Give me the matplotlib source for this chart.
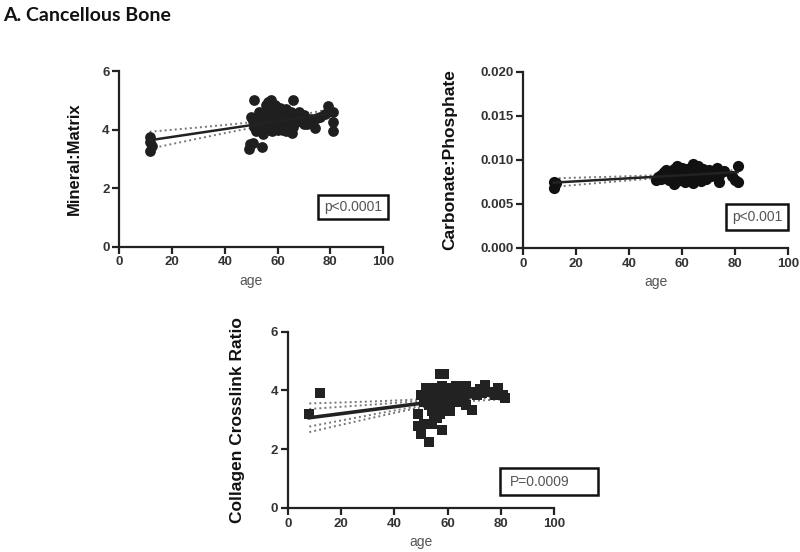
#!/usr/bin/env python3
"""Cancellous bone: mineral:matrix, carbonate:phosphate, crosslink ratio vs age."""

import numpy as np
import matplotlib
matplotlib.use("Agg")
import matplotlib.pyplot as plt
from matplotlib.patches import Rectangle

# --- data ---------------------------------------------------------------
mm_age = [11.5, 11.5, 12.5, 11.5, 49, 49.5, 50.5, 54, 51, 55.5, 56.5, 57.5, 66, 79,
          81, 81, 81, 74, 73, 71, 72.5, 65.5, 54.5, 52, 50.5, 50, 51, 53,
          52, 53, 54, 55, 55, 56, 56, 57, 57, 58, 58, 58, 59, 59, 60, 60, 60,
          61, 61, 62, 62, 62, 63, 63, 64, 64, 65, 65, 66, 66, 67, 67, 68, 68,
          69, 70, 70, 75, 76, 78, 59, 61, 63]
mm_val = [3.75, 3.58, 3.45, 3.28, 3.35, 3.5, 3.55, 3.4, 5.0, 4.85, 4.95, 5.0, 5.0, 4.8,
          4.6, 4.25, 3.95, 4.05, 4.25, 4.2, 4.35, 3.9, 3.85, 3.95, 4.3, 4.45, 4.1, 4.2,
          4.4, 4.6, 4.3, 4.1, 4.5, 4.2, 4.7, 4.0, 4.4, 4.6, 4.2, 3.95, 4.5, 4.1, 4.3, 4.0, 4.7,
          4.2, 4.5, 4.4, 4.0, 4.65, 4.3, 3.95, 4.5, 4.2, 4.6, 4.3, 4.4, 4.1, 4.55, 4.25, 4.4, 4.6,
          4.3, 4.5, 4.2, 4.4, 4.45, 4.55, 4.85, 4.75, 4.7]

cp_age = [11.5, 12, 11.5, 12.5, 50, 51, 52, 52, 53, 53, 54, 54, 55, 55, 56, 56, 57, 57,
          58, 58, 58, 59, 59, 60, 60, 61, 61, 62, 62, 63, 63, 64, 64, 64, 65, 65, 65,
          66, 66, 67, 67, 68, 68, 69, 70, 71, 72, 73, 74, 74, 76, 79, 80, 81, 81,
          57, 60, 62, 66, 69]
cp_val = [0.0075, 0.0072, 0.0068, 0.0074, 0.0077, 0.0080, 0.0083, 0.0078, 0.0086, 0.0081,
          0.0088, 0.0079, 0.0084, 0.0077, 0.0082, 0.0087, 0.0073, 0.0079, 0.0093, 0.0085,
          0.0076, 0.0089, 0.0081, 0.0084, 0.0078, 0.0087, 0.0075, 0.0082, 0.0090, 0.0086,
          0.0079, 0.0095, 0.0074, 0.0083, 0.0092, 0.0078, 0.0086, 0.0081, 0.0088, 0.0076,
          0.0084, 0.0089, 0.0080, 0.0085, 0.0088, 0.0082, 0.0086, 0.0091, 0.0075, 0.0083,
          0.0087, 0.0082, 0.0077, 0.0093, 0.0075, 0.0090, 0.0091, 0.0077, 0.0093, 0.0078]

cl_age = [8, 12, 53, 50, 49, 51, 54, 58, 49, 57, 58.5, 79, 81, 81.5, 74, 69, 67, 52, 56,
          50, 51, 52, 53, 53, 54, 54, 55, 55, 56, 56, 57, 57, 57, 58, 58, 59, 59, 60, 60,
          61, 61, 62, 62, 63, 63, 64, 64, 65, 66, 66, 67, 68, 70, 71, 72, 73, 76, 78,
          55, 56, 60]
cl_val = [3.2, 3.9, 2.25, 2.5, 2.8, 2.85, 2.85, 2.65, 3.2, 4.55, 4.55, 4.1, 3.85, 3.75,
          4.2, 3.35, 3.5, 4.1, 3.05,
          3.85, 3.6, 3.75, 3.9, 3.5, 4.0, 3.3, 3.7, 4.1, 3.9, 3.35, 4.0, 3.6, 3.2, 4.15, 3.8,
          3.95, 3.45, 4.1, 3.7, 3.9, 3.3, 4.0, 3.65, 4.15, 3.85, 3.6, 4.0, 3.9, 4.05, 3.7,
          4.15, 3.9, 3.95, 3.85, 4.05, 3.9, 3.95, 3.85, 3.2, 3.5, 3.4]

x_ticks = [0, 20, 40, 60, 80, 100]

TICK_COLOR = "#333333"
DOT_COLOR = "#1f1f1f"


def fit_with_band(ax, x, y, z_levels=(1.96,), lw=1.8):
    """Least squares line plus dotted confidence band(s) of the mean."""
    x = np.asarray(x, float)
    y = np.asarray(y, float)
    slope, icpt = np.polyfit(x, y, 1)
    resid = y - (slope * x + icpt)
    s = np.sqrt(np.sum(resid ** 2) / (len(x) - 2))
    sxx = np.sum((x - x.mean()) ** 2)
    xs = np.linspace(x.min(), x.max(), 50)
    fit = slope * xs + icpt
    for z in z_levels:
        se = s * np.sqrt(1 / len(x) + (xs - x.mean()) ** 2 / sxx)
        ax.plot(xs, fit + z * se, ls=(0, (1, 1.6)), color="#777777", lw=1.4, zorder=2)
        ax.plot(xs, fit - z * se, ls=(0, (1, 1.6)), color="#777777", lw=1.4, zorder=2)
    ax.plot(xs, fit, color="#222222", lw=lw, zorder=4)


def style_axes(ax):
    for side in ("top", "right"):
        ax.spines[side].set_visible(False)
    for side in ("left", "bottom"):
        ax.spines[side].set_linewidth(1.6)
        ax.spines[side].set_color("#222222")
    ax.tick_params(width=1.6, length=5, color="#222222", labelcolor=TICK_COLOR,
                   labelsize=9.5, pad=2)
    for lab in ax.get_xticklabels() + ax.get_yticklabels():
        lab.set_fontweight("bold")
    ax.set_xlim(0, 100)
    ax.set_xticks(x_ticks)


def p_box(fig, x0, y0, w, h, text, ha="center"):
    """Box in pixel coordinates (top-left origin) with the p value."""
    W, H = 800, 552
    fig.patches.append(Rectangle((x0 / W, 1 - (y0 + h) / H), w / W, h / H,
                                 transform=fig.transFigure, fill=False,
                                 edgecolor="#111111", lw=1.8))
    tx = (x0 + w / 2) / W if ha == "center" else (x0 + 10) / W
    fig.text(tx, 1 - (y0 + h / 2) / H, text, ha=ha, va="center",
             fontsize=10, color="#555555", family="Liberation Sans")


def main():
    plt.rcParams["font.family"] = ["Liberation Sans", "DejaVu Sans"]
    fig = plt.figure(figsize=(8, 5.52), dpi=100)

    fig.text(0.004, 0.972, "A. Cancellous Bone", fontsize=14, fontweight="bold",
             family="Lato", ha="left", va="center", color="#111111")

    # panel 1
    ax1 = fig.add_axes([0.149, 0.553, 0.330, 0.318])
    fit_with_band(ax1, mm_age, mm_val)
    ax1.scatter(mm_age, mm_val, s=60, color=DOT_COLOR, marker="o", lw=0, zorder=3)
    ax1.set_ylim(0, 6)
    ax1.set_yticks([0, 2, 4, 6])
    style_axes(ax1)
    ax1.set_ylabel("Mineral:Matrix", fontsize=12, fontweight="bold", color="#111111")
    ax1.yaxis.set_label_coords(-0.14, 0.5)
    ax1.set_xlabel("age", fontsize=10, color="#555555", labelpad=4)

    # panel 2
    ax2 = fig.add_axes([0.654, 0.551, 0.331, 0.319])
    fit_with_band(ax2, cp_age, cp_val)
    ax2.scatter(cp_age, cp_val, s=65, color="#111111", marker="o", lw=0, zorder=3)
    ax2.set_ylim(0, 0.02)
    ax2.set_yticks([0.0, 0.005, 0.010, 0.015, 0.020])
    ax2.set_yticklabels(["0.000", "0.005", "0.010", "0.015", "0.020"])
    style_axes(ax2)
    ax2.set_ylabel("Carbonate:Phosphate", fontsize=12.5, fontweight="bold", color="#111111")
    ax2.yaxis.set_label_coords(-0.25, 0.5)
    ax2.set_xlabel("age", fontsize=10, color="#555555", labelpad=4)

    # panel 3
    ax3 = fig.add_axes([0.36, 0.080, 0.3325, 0.319])
    fit_with_band(ax3, cl_age, cl_val, z_levels=(1.96, 1.2), lw=2.6)
    ax3.scatter(cl_age, cl_val, s=45, color="#222222", marker="s", lw=0, zorder=3)
    ax3.set_ylim(0, 6)
    ax3.set_yticks([0, 2, 4, 6])
    style_axes(ax3)
    ax3.set_ylabel("Collagen Crosslink Ratio", fontsize=12.5, fontweight="bold",
                   color="#111111")
    ax3.yaxis.set_label_coords(-0.16, 0.5)
    ax3.set_xlabel("age", fontsize=10, color="#555555", labelpad=4)

    p_box(fig, 318, 195, 70, 24, "p<0.0001")
    p_box(fig, 726, 204, 62, 26, "p<0.001")
    p_box(fig, 500, 468, 98, 27, "P=0.0009", ha="left")

    fig.savefig("out.png", dpi=100)


if __name__ == "__main__":
    main()
